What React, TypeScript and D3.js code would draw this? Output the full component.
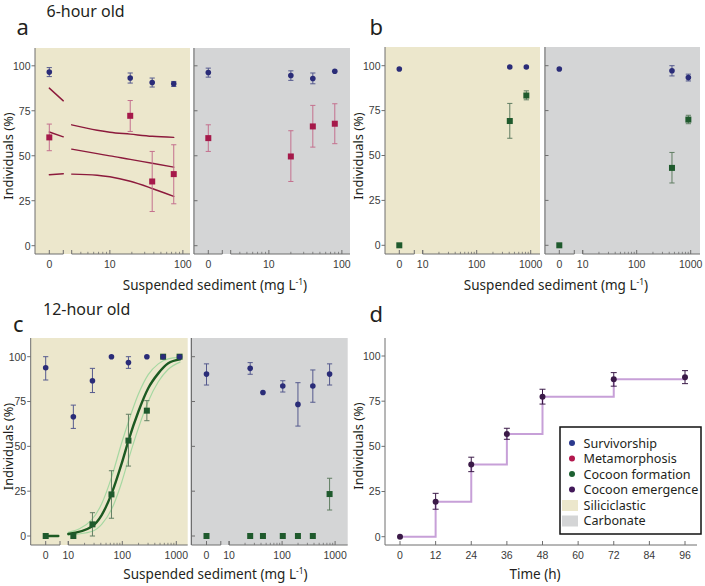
import React from "react";
import * as d3 from "d3";

// ================= DATA =================
// Panel a — 6-hour old, siliciclastic
const aSilConc = [0, 19, 38, 75];
const aSilSurv = [96.5, 93.2, 90.7, 90];
const aSilSurvLo = [94, 90.4, 88.2, 88.5];
const aSilSurvHi = [99, 96, 93.2, 91.3];
const aSilMeta = [60.2, 72.2, 35.7, 39.8];
const aSilMetaLo = [52.8, 63.5, 19, 23.3];
const aSilMetaHi = [67.6, 80.7, 52.4, 56.1];
// fitted metamorphosis curve with confidence band (log section)
const aFitConc = [3, 6.7, 10, 19, 38, 75];
const aFitUpper = [67.2, 64.2, 63.1, 62, 60.8, 60.2];
const aFitMid = [53.7, 51.2, 49.9, 48, 45.8, 43.7];
const aFitLower = [39.8, 39.2, 38.3, 35.8, 31.8, 27.4];
// fitted curve pieces in the zero-concentration section (start, end)
const aFitZeroUpper = [87.6, 80.5];
const aFitZeroMid = [63.2, 60.5];
const aFitZeroLower = [39.4, 40];

// Panel a — carbonate
const aCarConc = [0, 20, 40, 80];
const aCarSurv = [96.3, 94.6, 92.9, 97];
const aCarSurvLo = [93.7, 91.9, 90, 97];
const aCarSurvHi = [98.7, 97.2, 96, 97];
const aCarMeta = [59.8, 49.6, 66.3, 67.8];
const aCarMetaLo = [52.4, 35.7, 54.8, 56.7];
const aCarMetaHi = [67.2, 63.9, 78, 78.9];

// Panel b — 6-hour old, cocoon formation
const bSilConc = [0, 410, 830];
const bSilSurv = [98.2, 99.3, 99.3];
const bSilCocoon = [0, 69.2, 83.4];
const bSilCocoonLo = [0, 59.6, 81];
const bSilCocoonHi = [0, 79, 86];
const bCarConc = [0, 450, 905];
const bCarSurv = [98.2, 97.2, 93.4];
const bCarSurvLo = [98.2, 94.3, 91.5];
const bCarSurvHi = [98.2, 100, 95.3];
const bCarCocoon = [0, 43.1, 70];
const bCarCocoonLo = [0, 34.7, 67.7];
const bCarCocoonHi = [0, 51.7, 72.4];

// Panel c — 12-hour old, siliciclastic
const cSilConc = [0, 12.4, 28, 63, 130, 285, 570, 1150];
const cSilSurv = [93.8, 66.5, 86.6, 100, 96.7, 100, 100, 100];
const cSilSurvLo = [87, 60, 80, 100, 93.5, 100, 100, 100];
const cSilSurvHi = [100, 73, 93.5, 100, 100, 100, 100, 100];
const cSilCocoon = [0, 0, 6.5, 23.2, 53.2, 69.9, 100, 100];
const cSilCocoonLo = [0, 0, 0, 9.9, 39, 64.3, 100, 100];
const cSilCocoonHi = [0, 0, 13, 36.4, 67.9, 75.5, 100, 100];
// fitted cocoon-formation curve and band
const cFitConc = [10, 27, 41.5, 63.6, 97.5, 131, 198, 302, 464, 710, 1170];
const cFitMid = [1.1, 5.2, 11.7, 23.8, 40.5, 53.5, 69.3, 82.4, 90.7, 96.3, 98.5];
const cFitUpper = [2, 9, 18, 33, 52, 64, 79, 90, 96, 98.8, 99.6];
const cFitLower = [0.5, 2.5, 6.5, 15, 30, 43, 60, 75, 86, 93, 97];
const cFitZero = [0, 0];

// Panel c — carbonate
const cCarConc = [0, 25, 43.5, 103, 199, 380, 787];
const cCarSurv = [90.3, 93.5, 80, 83.7, 73.4, 83.7, 90.3];
const cCarSurvLo = [84.2, 90.2, 80, 80.3, 61.3, 74.6, 84.2];
const cCarSurvHi = [96, 96.7, 80, 86.6, 85.5, 92.6, 96];
const cCarCocoon = [0, 0, 0, 0, 0, 0, 23.4];
const cCarCocoonLo = [0, 0, 0, 0, 0, 0, 14.5];
const cCarCocoonHi = [0, 0, 0, 0, 0, 0, 32.2];

// Panel d — cocoon emergence over time
const dTime = [0, 12, 24, 36, 48, 72, 96];
const dEmerg = [0, 19.4, 40, 56.8, 77.5, 87.1, 88.2];
const dEmergLo = [0, 15.2, 36, 53.9, 73.4, 83.3, 84.7];
const dEmergHi = [0, 24, 44, 60, 81.6, 90.8, 91.9];
const dTicks = [0, 12, 24, 36, 48, 60, 72, 84, 96];

// axis ticks
const yTicks = [0, 25, 50, 75, 100];
const aMajors = [10, 100];
const aMinors = [4, 5, 6, 7, 8, 9, 20, 30, 40, 50, 60, 70, 80, 90];
const bcMajors = [10, 100, 1000];
const bcMinors = [20, 30, 40, 50, 60, 70, 80, 90, 200, 300, 400, 500, 600, 700, 800, 900];

// legend
const legendDots = ["Survivorship", "Metamorphosis", "Cocoon formation", "Cocoon emergence"];
const legendDotColors = ["#2b3a8e", "#b3184e", "#1d6132", "#42195a"];
const legendBoxes = ["Siliciclastic", "Carbonate"];

// ================= STYLE =================
const SANS = "'Noto Sans', 'Open Sans', sans-serif";
const TICKF = "'Liberation Sans', Arial, sans-serif";
const COL = {
  sil: "#ece7cc",
  car: "#d4d5d6",
  surv: "#2a2c78",
  survErr: "#555a8e",
  meta: "#a5194a",
  metaErr: "#c4708e",
  fit: "#8c1a3c",
  coc: "#1f5a2d",
  cocErr: "#607e62",
  cfit: "#1c5a22",
  cci: "#a6d8a2",
  emerg: "#3b1a48",
  step: "#c7a0d8",
  axis: "#6e6e6e",
  tick: "#3a3a3a",
};

type Cfg = {
  x0: number;
  bgLeft: number;
  x1: number;
  top: number;
  axisY: number;
  y0: number;
  y100: number;
  zeroOff: number;
  breakOff: number;
  logOff: number;
  logMin: number;
  ppd: number;
  bg: string;
  isLeft: boolean;
  majors: number[];
  minors: number[];
};

function scales(cfg: Cfg) {
  const logStart = cfg.x0 + cfg.logOff;
  const logMax = cfg.logMin * Math.pow(10, (cfg.x1 - logStart) / cfg.ppd);
  const log = d3.scaleLog().domain([cfg.logMin, logMax]).range([logStart, cfg.x1]);
  const zero = d3.scaleLinear().domain([0, 1]).range([cfg.x0 + cfg.zeroOff, cfg.x0 + cfg.breakOff]);
  const x = (c: number) => (c === 0 ? zero(0) : log(c));
  const y = d3.scaleLinear().domain([0, 100]).range([cfg.y0, cfg.y100]);
  return { log, zero, x, y };
}

function Frame({ cfg }: { cfg: Cfg }) {
  const { log, zero, y } = scales(cfg);
  const ay = cfg.axisY;
  const fmt = (v: number) => String(v);
  return (
    <g>
      <rect x={cfg.bgLeft} y={cfg.top} width={cfg.x1 - cfg.bgLeft} height={ay - cfg.top} fill={cfg.bg} />
      <line x1={cfg.x0} x2={cfg.x0} y1={cfg.top} y2={ay} stroke={COL.axis} strokeWidth={1} />
      {yTicks.map((t) => (
        <g key={t}>
          <line
            x1={cfg.isLeft ? cfg.x0 - 3.5 : cfg.x0}
            x2={cfg.isLeft ? cfg.x0 : cfg.x0 + 3.5}
            y1={y(t)}
            y2={y(t)}
            stroke={COL.axis}
          />
          {cfg.isLeft && (
            <text x={cfg.x0 - 4.5} y={y(t) + 3.8} textAnchor="end" fontFamily={TICKF} fontSize={10.5} fill={COL.tick}>
              {fmt(t)}
            </text>
          )}
        </g>
      ))}
      {/* broken x axis */}
      <line x1={cfg.x0} x2={cfg.x0 + cfg.breakOff} y1={ay} y2={ay} stroke={COL.axis} />
      <line x1={cfg.x0 + cfg.logOff} x2={cfg.x1} y1={ay} y2={ay} stroke={COL.axis} />
      {[zero(0), zero(1), cfg.x0 + cfg.logOff].map((px, i) => (
        <line key={"zb" + i} x1={px} x2={px} y1={ay} y2={ay - 4} stroke={COL.axis} />
      ))}
      {cfg.majors.map((m) => (
        <line key={"M" + m} x1={log(m)} x2={log(m)} y1={ay} y2={ay - 4} stroke={COL.axis} />
      ))}
      {cfg.minors.map((m) => (
        <line key={"m" + m} x1={log(m)} x2={log(m)} y1={ay} y2={ay - 2.2} stroke={COL.axis} strokeWidth={0.8} />
      ))}
      <text x={zero(0)} y={ay + 14} textAnchor="middle" fontFamily={TICKF} fontSize={10.5} fill={COL.tick}>
        0
      </text>
      {cfg.majors.map((m) => (
        <text key={"L" + m} x={log(m)} y={ay + 14} textAnchor="middle" fontFamily={TICKF} fontSize={10.5} fill={COL.tick}>
          {fmt(m)}
        </text>
      ))}
    </g>
  );
}

function ErrBars({ xs, lo, hi, X, Y, color, cap = 2.6 }: any) {
  return (
    <g stroke={color} strokeWidth={1}>
      {xs.map((c: number, i: number) =>
        hi[i] - lo[i] > 0.4 ? (
          <g key={i}>
            <line x1={X(c)} x2={X(c)} y1={Y(lo[i])} y2={Y(hi[i])} />
            <line x1={X(c) - cap} x2={X(c) + cap} y1={Y(lo[i])} y2={Y(lo[i])} />
            <line x1={X(c) - cap} x2={X(c) + cap} y1={Y(hi[i])} y2={Y(hi[i])} />
          </g>
        ) : null
      )}
    </g>
  );
}

function Dots({ xs, vs, X, Y, color, r = 2.8 }: any) {
  return (
    <g fill={color}>
      {xs.map((c: number, i: number) => (
        <circle key={i} cx={X(c)} cy={Y(vs[i])} r={r} />
      ))}
    </g>
  );
}

function Squares({ xs, vs, X, Y, color, s = 6 }: any) {
  return (
    <g fill={color}>
      {xs.map((c: number, i: number) => (
        <rect key={i} x={X(c) - s / 2} y={Y(vs[i]) - s / 2} width={s} height={s} />
      ))}
    </g>
  );
}

function Curve({ xs, vs, X, Y, color, w }: any) {
  const pts: [number, number][] = xs.map((c: number, i: number) => [X(c), Y(vs[i])]);
  const path = d3.line().curve(d3.curveMonotoneX)(pts) || "";
  return <path d={path} fill="none" stroke={color} strokeWidth={w} strokeLinecap="round" />;
}

// ================= LAYOUT =================
const aBase = { top: 48, axisY: 254, y0: 245.7, y100: 65.8, zeroOff: 14.3, breakOff: 28.3, logOff: 36.7, logMin: 3, ppd: 73, majors: aMajors, minors: aMinors };
const aL: Cfg = { ...aBase, x0: 35, bgLeft: 35, x1: 190, bg: COL.sil, isLeft: true };
const aR: Cfg = { ...aBase, x0: 194, bgLeft: 193, x1: 350, bg: COL.car, isLeft: false };

const bBase = { top: 47, axisY: 254, y0: 245.3, y100: 65.7, zeroOff: 14.3, breakOff: 29.3, logOff: 37.7, logMin: 10, ppd: 54, majors: bcMajors, minors: bcMinors };
const bL: Cfg = { ...bBase, x0: 385, bgLeft: 385, x1: 540, bg: COL.sil, isLeft: true };
const bR: Cfg = { ...bBase, x0: 545, bgLeft: 544, x1: 700, bg: COL.car, isLeft: false };

const cBase = { top: 338, axisY: 545, y0: 536, y100: 356.7, zeroOff: 15, breakOff: 29.3, logOff: 37.6, logMin: 10, majors: bcMajors, minors: bcMinors };
const cL: Cfg = { ...cBase, x0: 30.7, bgLeft: 30.7, x1: 187.7, ppd: 54, bg: COL.sil, isLeft: true };
const cR: Cfg = { ...cBase, x0: 191.5, bgLeft: 190, x1: 347.7, ppd: 53, bg: COL.car, isLeft: false };

function XTitle({ x, y }: { x: number; y: number }) {
  return (
    <text x={x} y={y} textAnchor="middle" fontFamily={SANS} fontSize={13.5} fill="#231f20">
      Suspended sediment (mg L
      <tspan fontSize={8.5} dy={-5}>
        -1
      </tspan>
      <tspan dy={5}>)</tspan>
    </text>
  );
}

function YTitle({ x, y }: { x: number; y: number }) {
  return (
    <text transform={`translate(${x},${y}) rotate(-90)`} textAnchor="middle" fontFamily={SANS} fontSize={12.8} fill="#231f20">
      Individuals (%)
    </text>
  );
}

export default function App() {
  const sAL = scales(aL);
  const sAR = scales(aR);
  const sBL = scales(bL);
  const sBR = scales(bR);
  const sCL = scales(cL);
  const sCR = scales(cR);

  // panel d scales
  const dx = d3.scaleLinear().domain([0, 96]).range([400, 685]);
  const dy = d3.scaleLinear().domain([0, 100]).range([536.7, 356]);
  const stepPath =
    d3
      .line<number>()
      .x((_, i) => dx(dTime[i]))
      .y((v) => dy(v))
      .curve(d3.curveStepAfter)(dEmerg) || "";

  return (
    <svg width={705} height={586} style={{ position: "absolute", left: 0, top: 0, background: "#fff" }}>
      {/* titles */}
      <text x={46.5} y={17.2} fontFamily={SANS} fontSize={16} fill="#231f20">6-hour old</text>
      <text x={43} y={315} fontFamily={SANS} fontSize={16} fill="#231f20">12-hour old</text>
      <text x={16.5} y={35} fontFamily={SANS} fontSize={22} fill="#231f20">a</text>
      <text x={369.5} y={35} fontFamily={SANS} fontSize={22} fill="#231f20">b</text>
      <text x={13} y={332} fontFamily={SANS} fontSize={22} fill="#231f20">c</text>
      <text x={369.5} y={322} fontFamily={SANS} fontSize={22} fill="#231f20">d</text>

      {/* ===== Panel a ===== */}
      <Frame cfg={aL} />
      <Frame cfg={aR} />
      <Curve xs={aFitConc} vs={aFitUpper} X={sAL.log} Y={sAL.y} color={COL.fit} w={1.4} />
      <Curve xs={aFitConc} vs={aFitMid} X={sAL.log} Y={sAL.y} color={COL.fit} w={1.4} />
      <Curve xs={aFitConc} vs={aFitLower} X={sAL.log} Y={sAL.y} color={COL.fit} w={1.4} />
      <Curve xs={[0, 1]} vs={aFitZeroUpper} X={sAL.zero} Y={sAL.y} color={COL.fit} w={1.4} />
      <Curve xs={[0, 1]} vs={aFitZeroMid} X={sAL.zero} Y={sAL.y} color={COL.fit} w={1.4} />
      <Curve xs={[0, 1]} vs={aFitZeroLower} X={sAL.zero} Y={sAL.y} color={COL.fit} w={1.4} />
      <ErrBars xs={aSilConc} lo={aSilMetaLo} hi={aSilMetaHi} X={sAL.x} Y={sAL.y} color={COL.metaErr} />
      <ErrBars xs={aSilConc} lo={aSilSurvLo} hi={aSilSurvHi} X={sAL.x} Y={sAL.y} color={COL.survErr} />
      <Squares xs={aSilConc} vs={aSilMeta} X={sAL.x} Y={sAL.y} color={COL.meta} />
      <Dots xs={aSilConc} vs={aSilSurv} X={sAL.x} Y={sAL.y} color={COL.surv} />
      <ErrBars xs={aCarConc} lo={aCarMetaLo} hi={aCarMetaHi} X={sAR.x} Y={sAR.y} color={COL.metaErr} />
      <ErrBars xs={aCarConc} lo={aCarSurvLo} hi={aCarSurvHi} X={sAR.x} Y={sAR.y} color={COL.survErr} />
      <Squares xs={aCarConc} vs={aCarMeta} X={sAR.x} Y={sAR.y} color={COL.meta} />
      <Dots xs={aCarConc} vs={aCarSurv} X={sAR.x} Y={sAR.y} color={COL.surv} />
      <YTitle x={12.5} y={156} />
      <XTitle x={215} y={290} />

      {/* ===== Panel b ===== */}
      <Frame cfg={bL} />
      <Frame cfg={bR} />
      <ErrBars xs={bSilConc} lo={bSilCocoonLo} hi={bSilCocoonHi} X={sBL.x} Y={sBL.y} color={COL.cocErr} />
      <Squares xs={bSilConc} vs={bSilCocoon} X={sBL.x} Y={sBL.y} color={COL.coc} />
      <Dots xs={bSilConc} vs={bSilSurv} X={sBL.x} Y={sBL.y} color={COL.surv} />
      <ErrBars xs={bCarConc} lo={bCarCocoonLo} hi={bCarCocoonHi} X={sBR.x} Y={sBR.y} color={COL.cocErr} />
      <ErrBars xs={bCarConc} lo={bCarSurvLo} hi={bCarSurvHi} X={sBR.x} Y={sBR.y} color={COL.survErr} />
      <Squares xs={bCarConc} vs={bCarCocoon} X={sBR.x} Y={sBR.y} color={COL.coc} />
      <Dots xs={bCarConc} vs={bCarSurv} X={sBR.x} Y={sBR.y} color={COL.surv} />
      <YTitle x={362.5} y={156} />
      <XTitle x={556} y={290} />

      {/* ===== Panel c ===== */}
      <Frame cfg={cL} />
      <Frame cfg={cR} />
      <Curve xs={cFitConc} vs={cFitUpper} X={sCL.log} Y={sCL.y} color={COL.cci} w={1.2} />
      <Curve xs={cFitConc} vs={cFitLower} X={sCL.log} Y={sCL.y} color={COL.cci} w={1.2} />
      <Curve xs={cFitConc} vs={cFitMid} X={sCL.log} Y={sCL.y} color={COL.cfit} w={2.4} />
      <Curve xs={[0, 0.88]} vs={cFitZero} X={sCL.zero} Y={sCL.y} color={COL.cfit} w={2.4} />
      <ErrBars xs={cSilConc} lo={cSilCocoonLo} hi={cSilCocoonHi} X={sCL.x} Y={sCL.y} color={COL.cocErr} />
      <ErrBars xs={cSilConc} lo={cSilSurvLo} hi={cSilSurvHi} X={sCL.x} Y={sCL.y} color={COL.survErr} />
      <Squares xs={cSilConc} vs={cSilCocoon} X={sCL.x} Y={sCL.y} color={COL.coc} />
      <Dots xs={cSilConc} vs={cSilSurv} X={sCL.x} Y={sCL.y} color={COL.surv} />
      <ErrBars xs={cCarConc} lo={cCarCocoonLo} hi={cCarCocoonHi} X={sCR.x} Y={sCR.y} color={COL.cocErr} />
      <ErrBars xs={cCarConc} lo={cCarSurvLo} hi={cCarSurvHi} X={sCR.x} Y={sCR.y} color={COL.survErr} />
      <Squares xs={cCarConc} vs={cCarCocoon} X={sCR.x} Y={sCR.y} color={COL.coc} />
      <Dots xs={cCarConc} vs={cCarSurv} X={sCR.x} Y={sCR.y} color={COL.surv} />
      <YTitle x={12.5} y={446.5} />
      <XTitle x={215.5} y={579} />

      {/* ===== Panel d ===== */}
      <g>
        <line x1={385} x2={385} y1={338} y2={545} stroke={COL.axis} />
        <line x1={385} x2={697} y1={545} y2={545} stroke={COL.axis} />
        {yTicks.map((t) => (
          <g key={t}>
            <line x1={381.5} x2={385} y1={dy(t)} y2={dy(t)} stroke={COL.axis} />
            <text x={380.5} y={dy(t) + 3.8} textAnchor="end" fontFamily={TICKF} fontSize={10.5} fill={COL.tick}>
              {t}
            </text>
          </g>
        ))}
        {dTicks.map((t) => (
          <g key={t}>
            <line x1={dx(t)} x2={dx(t)} y1={545} y2={541} stroke={COL.axis} />
            <text x={dx(t)} y={558.5} textAnchor="middle" fontFamily={TICKF} fontSize={10.5} fill={COL.tick}>
              {t}
            </text>
          </g>
        ))}
        <path d={stepPath} fill="none" stroke={COL.step} strokeWidth={2} />
        <ErrBars xs={dTime} lo={dEmergLo} hi={dEmergHi} X={dx} Y={dy} color={COL.emerg} cap={3} />
        <Dots xs={dTime} vs={dEmerg} X={dx} Y={dy} color={COL.emerg} r={3} />
        <YTitle x={362.5} y={446} />
        <text x={535} y={579} textAnchor="middle" fontFamily={SANS} fontSize={13.5} fill="#231f20">
          Time (h)
        </text>
        {/* legend */}
        <rect x={560} y={427} width={141} height={107} fill="#fff" stroke="#111" strokeWidth={1.5} />
        {legendDots.map((t, i) => (
          <g key={t}>
            <circle cx={572} cy={443 + i * 15.5} r={3} fill={legendDotColors[i]} />
            <text x={583.5} y={447.5 + i * 15.5} fontFamily={SANS} fontSize={12.6} fill="#231f20">
              {t}
            </text>
          </g>
        ))}
        {legendBoxes.map((t, i) => (
          <g key={t}>
            <rect x={562} y={500 + i * 15.5} width={16} height={11} fill={i === 0 ? COL.sil : COL.car} />
            <text x={583.5} y={509.5 + i * 15.5} fontFamily={SANS} fontSize={12.6} fill="#231f20">
              {t}
            </text>
          </g>
        ))}
      </g>
    </svg>
  );
}
